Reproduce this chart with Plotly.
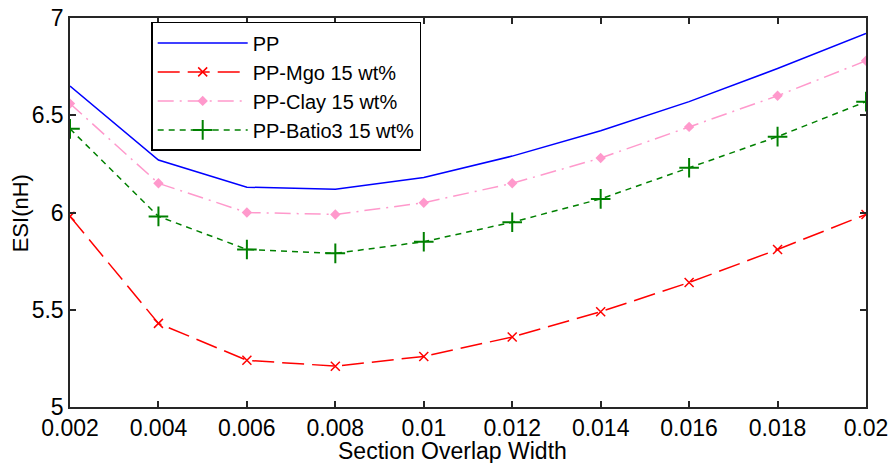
import plotly.graph_objects as go

x_vals = [0.002, 0.004, 0.006, 0.008, 0.010, 0.012, 0.014, 0.016, 0.018, 0.020]
pp = [6.65, 6.27, 6.13, 6.12, 6.18, 6.29, 6.42, 6.57, 6.74, 6.92]
pp_mgo = [5.98, 5.43, 5.24, 5.21, 5.26, 5.36, 5.49, 5.64, 5.81, 5.99]
pp_clay = [6.56, 6.15, 6.00, 5.99, 6.05, 6.15, 6.28, 6.44, 6.60, 6.78]
pp_batio3 = [6.43, 5.98, 5.81, 5.79, 5.85, 5.95, 6.07, 6.23, 6.39, 6.57]

x_ticks = [0.002, 0.004, 0.006, 0.008, 0.01, 0.012, 0.014, 0.016, 0.018, 0.02]
x_tick_labels = ["0.002", "0.004", "0.006", "0.008", "0.01", "0.012", "0.014", "0.016", "0.018", "0.02"]
y_ticks = [5, 5.5, 6, 6.5, 7]
y_tick_labels = ["5", "5.5", "6", "6.5", "7"]
x_title = "Section Overlap Width"
y_title = "ESI(nH)"

FONT = "Liberation Sans, Arial, sans-serif"

fig = go.Figure()
fig.add_trace(go.Scatter(x=x_vals, y=pp, name="PP", mode="lines",
                         line=dict(color="#0000ff", width=1.5)))
fig.add_trace(go.Scatter(x=x_vals, y=pp_mgo, name="PP-Mgo 15 wt%", mode="lines+markers",
                         line=dict(color="#ff0000", width=1.5, dash="22px,8px"),
                         marker=dict(symbol="x-thin-open", size=9,
                                     line=dict(color="#ff0000", width=1.5))))
fig.add_trace(go.Scatter(x=x_vals, y=pp_clay, name="PP-Clay 15 wt%", mode="lines+markers",
                         line=dict(color="#ff99cc", width=1.5, dash="16px,6px,2px,6px"),
                         marker=dict(symbol="diamond", size=8, color="#ff99cc")))
fig.add_trace(go.Scatter(x=x_vals, y=pp_batio3, name="PP-Batio3 15 wt%", mode="lines+markers",
                         line=dict(color="#008000", width=1.5, dash="6px,5px"),
                         marker=dict(symbol="cross-thin-open", size=14,
                                     line=dict(color="#008000", width=2))))

axis_common = dict(showgrid=False, zeroline=False, showline=True, linecolor="#262626",
                   linewidth=1.5, mirror="allticks", ticks="inside", ticklen=6,
                   tickcolor="#262626", tickwidth=1.5, automargin=False,
                   tickfont=dict(family=FONT, size=23, color="#000000"))

fig.update_xaxes(range=[0.002, 0.02], tickvals=x_ticks, ticktext=x_tick_labels, **axis_common)
fig.update_yaxes(range=[5, 7], tickvals=y_ticks, ticktext=y_tick_labels, **axis_common)

fig.add_annotation(text=x_title, xref="paper", yref="paper", x=0.481, y=-0.112,
                   xanchor="center", yanchor="middle", showarrow=False,
                   font=dict(family=FONT, size=23, color="#000000"))
fig.add_annotation(text=y_title, xref="paper", yref="paper", x=-0.062, y=0.497,
                   xanchor="center", yanchor="middle", showarrow=False, textangle=-90,
                   font=dict(family=FONT, size=22, color="#000000"))

fig.update_layout(
    width=896, height=463,
    margin=dict(l=70, r=30, t=18, b=56),
    plot_bgcolor="white", paper_bgcolor="white",
    font=dict(family=FONT, color="#000000"),
    legend=dict(x=0.102, y=0.99, xanchor="left", yanchor="top",
                bgcolor="white", bordercolor="#000000", borderwidth=1.5,
                font=dict(family=FONT, size=20, color="#000000"),
                itemwidth=90, tracegroupgap=0),
    showlegend=True,
)

fig.write_html("out.html", config={"displayModeBar": False},
               post_script="document.body.style.margin='0';document.body.style.overflow='hidden';")
